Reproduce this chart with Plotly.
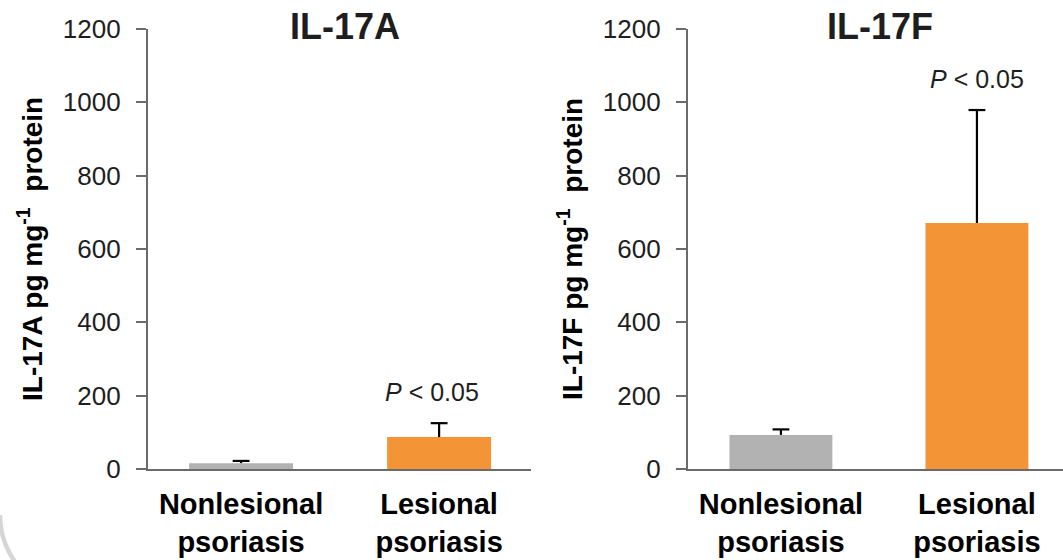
import numpy as np
import plotly.graph_objects as go

W, H = 1063, 560

categories = ["Nonlesional<br>psoriasis", "Lesional<br>psoriasis"]
bar_colors = ["#B1B2B1", "#F39436"]

il17a_mean = [16, 87]
il17a_err = [6, 38]

il17f_mean = [93, 671]
il17f_err = [15, 308]

panel_titles = ["IL-17A", "IL-17F"]
y_titles = ["IL-17A pg mg<sup>-1</sup>  protein", "IL-17F pg mg<sup>-1</sup>  protein"]
p_text = "<i>P</i> < 0.05"
y_ticks = [0, 200, 400, 600, 800, 1000, 1200]

FONT = "Liberation Sans, Arial, sans-serif"
AXIS_COLOR = "#6B6B6B"
TEXT_COLOR = "#1E1E1E"


def px_x(p):
    return p / W


def px_y(p):
    return 1 - p / H


fig = go.Figure()

panels = [(il17a_mean, il17a_err), (il17f_mean, il17f_err)]
for i, (mean, err) in enumerate(panels):
    xa = "x" if i == 0 else "x2"
    ya = "y" if i == 0 else "y2"
    fig.add_trace(go.Bar(
        x=categories, y=mean,
        marker=dict(color=bar_colors, line=dict(width=0)),
        width=0.525,
        xaxis=xa, yaxis=ya, showlegend=False, hoverinfo="skip",
    ))
    # upper-only error bars: stem from bar top to mean+err, cap at the top
    sx, sy = [], []
    for c, m, e in zip(categories, mean, err):
        sx += [c, c, None]
        sy += [m, m + e, None]
    fig.add_trace(go.Scatter(
        x=sx, y=sy, mode="lines", line=dict(color="black", width=2.2),
        xaxis=xa, yaxis=ya, showlegend=False, hoverinfo="skip", cliponaxis=False,
    ))
    fig.add_trace(go.Scatter(
        x=categories, y=[m + e for m, e in zip(mean, err)], mode="markers",
        marker=dict(symbol="line-ew", size=12, line=dict(color="black", width=2.2)),
        xaxis=xa, yaxis=ya, showlegend=False, hoverinfo="skip", cliponaxis=False,
    ))

x_domains = [[px_x(148), px_x(531)], [px_x(688), 1.0]]
x_ranges = [[-0.47, 1.464], [-0.474, 1.439]]
y_domain = [px_y(469), px_y(29)]

axis_common_y = dict(
    range=[0, 1200], tickvals=y_ticks, showline=True, linecolor=AXIS_COLOR, linewidth=2.3,
    ticks="outside", ticklen=10, tickwidth=2, tickcolor=AXIS_COLOR,
    tickfont=dict(family=FONT, size=26, color=TEXT_COLOR),
    showgrid=False, zeroline=False, domain=y_domain, ticklabelstandoff=10,
    automargin=False,
)
axis_common_x = dict(
    type="category",
    showline=True, linecolor=AXIS_COLOR, linewidth=2.3, ticks="",
    tickfont=dict(family=FONT, size=29, color="#000000", weight="bold"),
    showgrid=False, zeroline=False, ticklabelstandoff=8, automargin=False,
)

fig.update_layout(
    width=W, height=H,
    margin=dict(l=0, r=0, t=0, b=0, autoexpand=False),
    paper_bgcolor="white", plot_bgcolor="white",
    xaxis=dict(domain=x_domains[0], range=x_ranges[0], anchor="y", **axis_common_x),
    xaxis2=dict(domain=x_domains[1], range=x_ranges[1], anchor="y2", **axis_common_x),
    yaxis=dict(anchor="x", **axis_common_y),
    yaxis2=dict(anchor="x2", **axis_common_y),
    barmode="overlay",
)

title_x = [345, 880]
ytitle_x = [30, 570]
for i in range(2):
    fig.add_annotation(text=f"<b>{panel_titles[i]}</b>", xref="paper", yref="paper",
                       x=px_x(title_x[i]), y=px_y(26), xanchor="center", yanchor="middle",
                       showarrow=False, font=dict(family=FONT, size=36, color=TEXT_COLOR))
    fig.add_annotation(text=f"<b>{y_titles[i]}</b>", xref="paper", yref="paper",
                       x=px_x(ytitle_x[i]), y=px_y(249), xanchor="center", yanchor="middle",
                       textangle=-90, showarrow=False,
                       font=dict(family=FONT, size=28, color="#000000"))

# P-value labels above the lesional bars
p_xshift = [-7, 0]
for i, (mean, err) in enumerate(panels):
    xa = "x" if i == 0 else "x2"
    ya = "y" if i == 0 else "y2"
    fig.add_annotation(text=p_text, xref=xa, yref=ya, x=categories[1],
                       y=mean[1] + err[1], yshift=31, xshift=p_xshift[i],
                       yanchor="middle", xanchor="center",
                       showarrow=False, font=dict(family=FONT, size=25, color=TEXT_COLOR))

# decorative rounded frame corner (bottom-left)
cx, cy, r = 80, 515, 80
ang = np.linspace(np.pi, np.pi * 1.5, 30)
pts = [(cx + r * np.cos(a), cy - r * np.sin(a)) for a in ang]
path = "M " + " L ".join(f"{px_x(x):.5f},{px_y(y):.5f}" for x, y in pts)
fig.add_shape(type="path", path=path, xref="paper", yref="paper",
              line=dict(color="#D6D6D6", width=4.5), layer="below")

fig.write_html("out.html")
